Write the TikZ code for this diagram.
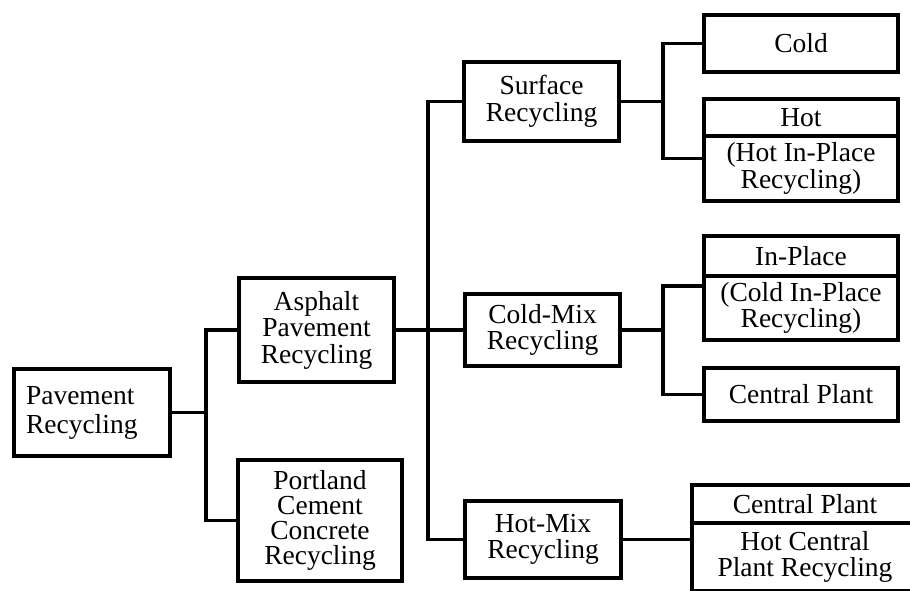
\documentclass[tikz,border=0pt]{standalone}
\usepackage{fontspec}
\setmainfont{Liberation Serif}
\usetikzlibrary{calc}
\begin{document}
\begin{tikzpicture}[x=1pt,y=-1pt,
  box/.style={draw, line width=3.8pt, align=center, inner sep=0pt,
    font=\fontsize{27.5}{26.5}\selectfont},
  link/.style={line width=3.8pt},
]
\useasboundingbox (0,0) rectangle (910,590);
\clip (0,0) rectangle (910,590);

% first level
\node[box, minimum width=156pt, minimum height=87pt, text width=132pt, align=left,
  font=\fontsize{27.5}{29}\selectfont] (pav) at (92,412.5) {Pavement\\Recycling};
% second level
\node[box, minimum width=155pt, minimum height=104pt] (asp) at (316.5,330) {Asphalt\\Pavement\\Recycling};
\node[box, minimum width=164pt, minimum height=121pt, font=\fontsize{27.5}{25}\selectfont] (pcc) at (320,520.5) {Portland\\Cement\\Concrete\\Recycling};
% third level
\node[box, minimum width=155pt, minimum height=79pt] (sur) at (541.5,101.5) {Surface\\Recycling};
\node[box, minimum width=155pt, minimum height=72pt] (cmx) at (542.5,330) {Cold-Mix\\Recycling};
\node[box, minimum width=156pt, minimum height=77pt] (hmx) at (543,539.5) {Hot-Mix\\Recycling};
% fourth level
\node[box, minimum width=194pt, minimum height=57pt] (cold) at (801,43.5) {Cold};
\node[box, minimum width=194pt, minimum height=37pt] (hott) at (801,117.5) {Hot};
\node[box, minimum width=194pt, minimum height=65pt] (hotb) at (801,168.5) {(Hot In-Place\\Recycling)};
\node[box, minimum width=194pt, minimum height=40pt] (ipt) at (801,256) {In-Place};
\node[box, minimum width=194pt, minimum height=64pt] (ipb) at (801,308) {(Cold In-Place\\Recycling)};
\node[box, minimum width=194pt, minimum height=53pt] (cp) at (801,394.5) {Central Plant};
\node[box, minimum width=226pt, minimum height=38pt] (hcpt) at (805,504) {Central Plant};
\node[box, minimum width=226pt, minimum height=68pt] (hcpb) at (805,557) {Hot Central\\Plant Recycling};

% junction points
\coordinate (j0) at (206,412.5);
\coordinate (j1) at (428,330);
\coordinate (j2) at (663,101.5);
\coordinate (j3) at (663,330);
\coordinate (hotc) at ($(hott.north west)!0.58!(hotb.south west)$);
\coordinate (ipc) at ($(ipt.north west)!0.48!(ipb.south west)$);

% connectors
\draw[link] (pav.east) -- (j0);
\draw[link] (asp.west) -| (j0) |- (pcc.west);
\draw[link] (asp.east) -- (cmx.west);
\draw[link] (sur.west) -| (j1) |- (hmx.west);
\draw[link] (sur.east) -- (j2);
\draw[link] (cold.west) -| (j2) |- (hotc);
\draw[link] (cmx.east) -- (j3);
\draw[link] (ipc) -| (j3) |- (cp.west);
\draw[link] (hmx.east) -- (hmx.east -| hcpb.west);
\end{tikzpicture}
\end{document}
